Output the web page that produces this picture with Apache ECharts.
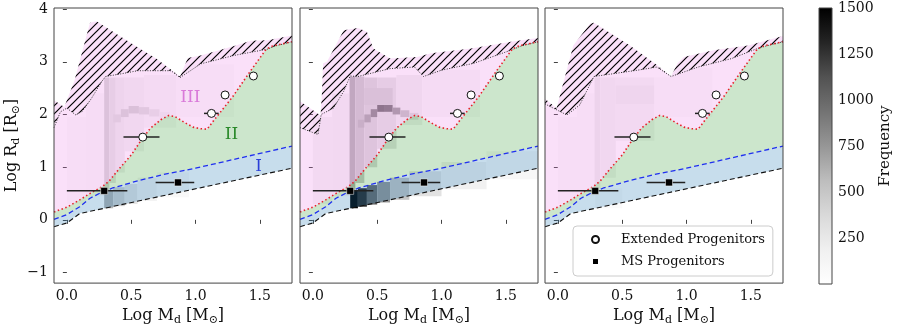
<!DOCTYPE html>
<html>
<head>
<meta charset="utf-8">
<script src="https://cdn.jsdelivr.net/npm/echarts@6/dist/echarts.min.js"></script>
<style>
  html, body { margin: 0; padding: 0; background: #fff; }
  #chart { width: 897px; height: 331px; }
</style>
</head>
<body>
<div id="chart"></div>
<script>
var FONT = 'DejaVu Serif';

// ticks
var xTicks = [0, 0.5, 1.0, 1.5];
var yTicks = [-1, 0, 1, 2, 3, 4];
var freqTicks = [250, 500, 750, 1000, 1250, 1500];

// region boundaries (same on every panel)
var redLine = [[-0.1,0.15],[0.0,0.24],[0.1,0.38],[0.2,0.53],[0.27,0.62],[0.33,0.74],[0.4,0.95],[0.5,1.23],
  [0.58,1.52],[0.65,1.74],[0.73,1.9],[0.79,1.98],[0.84,1.96],[0.92,1.84],[0.98,1.76],[1.04,1.73],
  [1.09,1.72],[1.14,1.88],[1.29,2.34],[1.42,2.8],[1.55,3.24],[1.6,3.3],[1.75,3.38]];
var blueLine = [[-0.1,0.01],[0.0,0.1],[0.1,0.25],[0.18,0.41],[0.26,0.51],[0.35,0.6],[0.55,0.74],
  [0.75,0.86],[1.0,0.98],[1.75,1.4]];
var blackLine = [[-0.1,-0.13],[0.0,-0.06],[0.1,0.12],[1.75,0.98]];

// hatched region, one outline per panel
var hatchTop1 = [[-0.1,2.27],[-0.02,2.14],[0.06,2.65],[0.15,3.47],[0.18,3.74],[0.23,3.77],[0.5,3.35],
  [0.7,3.05],[0.88,2.72],[0.94,3.07],[1.04,3.12],[1.3,3.3],[1.43,3.4],[1.56,3.41],[1.75,3.5]];
var hatchBot1 = [[-0.1,1.75],[-0.05,2.05],[0.0,2.12],[0.07,1.99],[0.12,2.06],[0.19,2.3],[0.27,2.62],
  [0.3,2.72],[0.42,2.77],[0.55,2.83],[0.81,2.83],[0.88,2.7],[1.04,2.96],[1.3,3.12],[1.56,3.24],
  [1.62,3.3],[1.75,3.38]];
var hatchTop2 = [[-0.1,2.25],[0.06,1.98],[0.07,2.37],[0.08,2.97],[0.11,3.0],[0.24,3.6],[0.35,3.64],
  [0.42,3.57],[0.47,3.25],[0.6,3.06],[0.81,3.09],[0.92,3.16],[1.23,3.25],[1.54,3.38],[1.75,3.45]];
var hatchBot2 = [[-0.1,1.75],[0.04,1.62],[0.065,2.0],[0.16,2.12],[0.24,2.44],[0.29,2.73],[0.35,2.72],
  [0.6,2.87],[0.79,2.9],[0.86,2.72],[1.0,2.84],[1.25,2.97],[1.54,3.22],[1.62,3.3],[1.75,3.38]];
var hatchTop3 = [[-0.1,2.3],[-0.01,2.12],[0.12,3.31],[0.25,3.72],[0.28,3.74],[0.56,3.31],[0.77,2.94],
  [0.88,2.72],[0.93,2.97],[0.98,3.09],[1.21,3.22],[1.48,3.31],[1.75,3.49]];
var hatchBot3 = [[-0.1,2.2],[0.07,1.99],[0.17,2.18],[0.28,2.72],[0.62,2.84],[0.77,2.9],[0.88,2.72],
  [1.09,2.9],[1.35,3.06],[1.55,3.25],[1.62,3.3],[1.75,3.38]];

// 2D histogram blocks per panel: [x0, x1, y0, y1, count]
var freq1 = [
  [0.0,0.15,0.3,1.95,50],[0.15,0.29,0.45,2.4,60],
  [0.29,0.33,0.55,2.7,380],[0.33,0.38,0.7,2.7,270],[0.38,0.45,0.9,2.7,190],[0.45,0.6,1.3,2.7,140],
  [0.6,0.85,1.75,2.75,90],[0.85,0.95,1.95,2.7,50],[0.95,1.3,1.95,2.95,50],
  [0.36,0.42,1.85,2.0,320],[0.42,0.48,1.95,2.1,380],[0.48,0.56,2.02,2.16,400],[0.56,0.64,2.0,2.14,330],
  [0.64,0.72,1.96,2.1,250],[0.72,0.8,1.92,2.05,180],
  [0.29,0.36,0.22,0.55,600],[0.36,0.45,0.26,0.62,420],[0.45,0.55,0.3,0.68,280],[0.55,0.7,0.36,0.8,160],
  [0.7,0.95,0.43,0.9,90]
];
var freq2 = [
  [0.0,0.15,0.3,1.95,110],[0.15,0.285,0.45,2.4,130],
  [0.285,0.33,0.55,2.72,600],[0.33,0.4,0.7,2.72,450],[0.4,0.5,1.0,2.7,360],[0.5,0.65,1.35,2.7,280],
  [0.65,0.85,1.8,2.75,160],[0.85,1.3,1.95,2.85,80],[0.4,0.62,2.18,2.5,400],
  [0.35,0.4,1.75,1.9,550],[0.4,0.45,1.85,2.0,650],[0.45,0.5,1.95,2.1,800],[0.5,0.56,2.05,2.18,950],
  [0.56,0.62,2.05,2.18,900],[0.62,0.68,2.0,2.13,700],[0.68,0.75,1.95,2.08,500],[0.75,0.82,1.9,2.03,350],
  [0.29,0.35,0.22,0.55,1500],[0.35,0.42,0.25,0.6,1300],[0.42,0.5,0.29,0.66,1000],[0.5,0.6,0.33,0.72,750],
  [0.6,0.75,0.38,0.8,500],[0.75,1.0,0.45,0.92,300],[1.0,1.35,0.58,1.1,170],[1.35,1.75,0.77,1.3,100]
];
var freq3 = [
  [0.0,0.15,0.3,1.95,45],[0.15,0.285,0.45,2.4,50],
  [0.285,0.33,0.6,2.7,200],[0.33,0.45,0.8,2.7,140],[0.45,0.75,1.5,2.7,110],[0.45,0.75,2.2,2.55,170],
  [0.75,0.87,1.95,2.7,50],[0.87,1.2,1.95,2.88,50],
  [0.29,0.5,0.22,0.6,60]
];

// progenitors
var extX = [0.59, 1.124, 1.23, 1.45];
var extY = [1.57, 2.02, 2.37, 2.73];
var extXLo = [0.44, 1.066, 1.23, 1.45];
var extXHi = [0.72, 1.18, 1.23, 1.45];
var msX = [0.29, 0.864];
var msY = [0.55, 0.71];
var msXLo = [0.0, 0.69];
var msXHi = [0.47, 0.99];
var msYLo = [0.55, 0.65];
var msYHi = [0.55, 0.77];

// region labels (left panel)
var regionText = ['III', 'II', 'I'];
var regionX = [0.96, 1.28, 1.49];
var regionY = [2.32, 1.62, 1.01];
var regionColor = ['#d97ad9', '#2a8a2a', '#2a3fd8'];

var greys = ['#ffffff','#f0f0f0','#d9d9d9','#bdbdbd','#969696','#737373','#525252','#252525','#000000'];

var panelLeft = [54, 300, 545];
var hatchTops = [hatchTop1, hatchTop2, hatchTop3];
var hatchBots = [hatchBot1, hatchBot2, hatchBot3];
var freqs = [freq1, freq2, freq3];

function hatchPattern() {
  var c = document.createElement('canvas');
  c.width = 8; c.height = 8;
  var g = c.getContext('2d');
  g.strokeStyle = '#000';
  g.lineWidth = 1.2;
  g.beginPath();
  g.moveTo(0, 8); g.lineTo(8, 0);
  g.moveTo(-1, 1); g.lineTo(1, -1);
  g.moveTo(7, 9); g.lineTo(9, 7);
  g.stroke();
  return c;
}
var hatchImg = hatchPattern();

function rev(a) { return a.slice().reverse(); }

function polygonSeries(gi, pts, style, z) {
  return {
    type: 'custom', xAxisIndex: gi, yAxisIndex: gi, z: z, silent: true,
    data: [[pts[0][0], pts[0][1]]],
    renderItem: function (params, api) {
      return {type: 'polygon', shape: {points: pts.map(function (p) { return api.coord(p); })}, style: style};
    }
  };
}

function renderBlock(params, api) {
  var a = api.coord([api.value(0), api.value(3)]);
  var b = api.coord([api.value(1), api.value(2)]);
  return {type: 'rect', shape: {x: a[0], y: a[1], width: b[0] - a[0], height: b[1] - a[1]},
    style: {fill: api.visual('color')}};
}

function renderErr(params, api) {
  var x = api.value(0), y = api.value(1);
  var kids = [];
  if (api.value(3) > api.value(2)) {
    var a = api.coord([api.value(2), y]), b = api.coord([api.value(3), y]);
    kids.push({type: 'line', shape: {x1: a[0], y1: a[1], x2: b[0], y2: b[1]}, style: {stroke: '#222', lineWidth: 1.5}});
  }
  if (api.value(5) > api.value(4)) {
    var c = api.coord([x, api.value(4)]), d = api.coord([x, api.value(5)]);
    kids.push({type: 'line', shape: {x1: c[0], y1: c[1], x2: d[0], y2: d[1]}, style: {stroke: '#222', lineWidth: 1.5}});
  }
  return {type: 'group', children: kids};
}

var errData = [];
extX.forEach(function (x, i) { errData.push([x, extY[i], extXLo[i], extXHi[i], extY[i], extY[i]]); });
msX.forEach(function (x, i) { errData.push([x, msY[i], msXLo[i], msXHi[i], msYLo[i], msYHi[i]]); });

var nameRich = {
  a: {fontFamily: FONT, fontSize: 16, lineHeight: 20, color: '#111'},
  s: {fontFamily: FONT, fontSize: 11, lineHeight: 8, verticalAlign: 'bottom', color: '#111'}
};

var grids = [], xAxes = [], yAxes = [], series = [], heatIdx = [];

panelLeft.forEach(function (left, i) {
  grids.push({left: left, top: 8, width: 238, height: 276, show: true, z: 10,
    backgroundColor: 'transparent', borderColor: '#444', borderWidth: 1});
  xAxes.push({
    type: 'value', gridIndex: i, min: -0.1, max: 1.75,
    axisLine: {show: false}, splitLine: {show: false},
    axisTick: {show: true, length: 4, customValues: xTicks, lineStyle: {color: '#444'}},
    axisLabel: {customValues: xTicks, fontFamily: FONT, fontSize: 14, color: '#111', margin: 6,
      formatter: function (v) { return v.toFixed(1); }},
    name: '{a|Log M}{s|d}{a| [M}{s|\u2299}{a|]}', nameLocation: 'middle', nameGap: 22,
    nameTextStyle: {rich: nameRich}
  });
  var ya = {
    type: 'value', gridIndex: i, min: -1.2, max: 4.02,
    axisLine: {show: false}, splitLine: {show: false},
    axisTick: {show: true, length: 4, customValues: yTicks, lineStyle: {color: '#444'}},
    axisLabel: {show: i === 0, customValues: yTicks, fontFamily: FONT, fontSize: 14, color: '#111', margin: 6,
      formatter: function (v) { return String(v).replace('-', '\u2212'); }}
  };
  if (i === 0) {
    ya.name = '{a|Log R}{s|d}{a| [R}{s|\u2299}{a|]}';
    ya.nameLocation = 'middle';
    ya.nameGap = 32;
    ya.nameRotate = 90;
    ya.nameTextStyle = {rich: nameRich};
  }
  yAxes.push(ya);

  heatIdx.push(series.length);
  series.push({type: 'custom', xAxisIndex: i, yAxisIndex: i, z: 1, silent: true,
    data: freqs[i], encode: {x: [0, 1], y: [2, 3]}, renderItem: renderBlock});

  series.push(polygonSeries(i, redLine.concat(rev(hatchTops[i])), {fill: 'rgba(235,125,230,0.24)'}, 2));
  series.push(polygonSeries(i, blueLine.concat(rev(redLine)), {fill: 'rgba(0,128,0,0.2)'}, 2));
  series.push(polygonSeries(i, blackLine.concat(rev(blueLine)), {fill: 'rgba(31,119,180,0.25)'}, 2));
  series.push(polygonSeries(i, hatchTops[i].concat(rev(hatchBots[i])),
    {fill: {image: hatchImg, repeat: 'repeat'}}, 3));

  series.push({type: 'line', xAxisIndex: i, yAxisIndex: i, data: hatchBots[i], symbol: 'none', silent: true, z: 4,
    lineStyle: {color: '#333', width: 1, type: [1, 1.5]}});
  series.push({type: 'line', xAxisIndex: i, yAxisIndex: i, data: redLine, symbol: 'none', silent: true, z: 4,
    lineStyle: {color: '#e8202a', width: 1.6, type: [1.5, 2.5]}});
  series.push({type: 'line', xAxisIndex: i, yAxisIndex: i, data: blueLine, symbol: 'none', silent: true, z: 4,
    lineStyle: {color: '#1f2ff0', width: 1.3, type: [5, 3]}});
  series.push({type: 'line', xAxisIndex: i, yAxisIndex: i, data: blackLine, symbol: 'none', silent: true, z: 4,
    lineStyle: {color: '#111', width: 1.1, type: [5, 3]}});

  series.push({type: 'custom', xAxisIndex: i, yAxisIndex: i, z: 5, silent: true,
    data: errData, renderItem: renderErr});
  series.push({type: 'scatter', name: 'Extended Progenitors', xAxisIndex: i, yAxisIndex: i, z: 6, silent: true,
    data: extX.map(function (x, k) { return [x, extY[k]]; }),
    symbol: 'circle', symbolSize: 8, itemStyle: {color: '#fff', borderColor: '#111', borderWidth: 1, opacity: 1}});
  series.push({type: 'scatter', name: 'MS Progenitors', xAxisIndex: i, yAxisIndex: i, z: 6, silent: true,
    data: msX.map(function (x, k) { return [x, msY[k]]; }),
    symbol: 'rect', symbolSize: 7, itemStyle: {color: '#000', borderColor: '#fff', borderWidth: 0.5, opacity: 1}});
});

series.push({type: 'custom', xAxisIndex: 0, yAxisIndex: 0, z: 7, silent: true,
  data: regionX.map(function (x, k) { return [x, regionY[k]]; }),
  renderItem: function (params, api) {
    var p = api.coord([api.value(0), api.value(1)]);
    var k = params.dataIndex;
    return {type: 'text', x: p[0], y: p[1],
      style: {text: regionText[k], fill: regionColor[k], fontFamily: FONT, fontSize: 17,
        align: 'center', verticalAlign: 'middle'}};
  }});

// colorbar
grids.push({left: 819, top: 8, width: 13, height: 276, show: true, z: 10,
  backgroundColor: 'transparent', borderColor: '#444', borderWidth: 1});
xAxes.push({type: 'value', gridIndex: 3, min: 0, max: 1, show: false});
yAxes.push({
  type: 'value', gridIndex: 3, min: 0, max: 1500, position: 'right',
  axisLine: {show: false}, splitLine: {show: false},
  axisTick: {show: true, length: 4, customValues: freqTicks, lineStyle: {color: '#444'}},
  axisLabel: {customValues: freqTicks, fontFamily: FONT, fontSize: 14, color: '#111', margin: 6,
    formatter: function (v) { return String(v); }},
  name: 'Frequency', nameLocation: 'middle', nameRotate: 90, nameGap: 42,
  nameTextStyle: {fontFamily: FONT, fontSize: 15, color: '#111'}
});
series.push({type: 'custom', xAxisIndex: 3, yAxisIndex: 3, z: 1, silent: true,
  data: [[0, 0]],
  renderItem: function (params, api) {
    var a = api.coord([0, 1500]), b = api.coord([1, 0]);
    var stops = greys.map(function (c, k) { return {offset: k / (greys.length - 1), color: c}; });
    return {type: 'rect', shape: {x: a[0], y: a[1], width: b[0] - a[0], height: b[1] - a[1]},
      style: {fill: new echarts.graphic.LinearGradient(0, 1, 0, 0, stops)}};
  }});

var chart = echarts.init(document.getElementById('chart'), null, {renderer: 'canvas'});
chart.setOption({
  animation: false,
  backgroundColor: '#fff',
  grid: grids,
  xAxis: xAxes,
  yAxis: yAxes,
  visualMap: {show: false, type: 'continuous', min: 0, max: 1500, dimension: 4,
    seriesIndex: heatIdx, inRange: {color: greys}},
  legend: {
    data: ['Extended Progenitors', 'MS Progenitors'],
    orient: 'vertical', left: 573, top: 226, z: 20,
    padding: [7, 8, 8, 18], itemGap: 9, itemWidth: 7, itemHeight: 7,
    backgroundColor: 'rgba(255,255,255,0.85)', borderColor: '#ccc', borderWidth: 1, borderRadius: 4,
    textStyle: {fontFamily: FONT, fontSize: 13, color: '#111', padding: [0, 0, 0, 17]},
    selectedMode: false
  },
  series: series
});
</script>
</body>
</html>
